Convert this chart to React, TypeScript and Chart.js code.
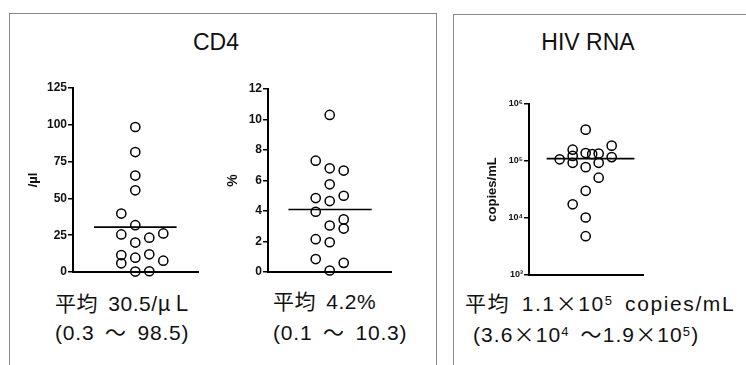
import React, { useEffect, useRef } from "react";
import { Chart, registerables } from "chart.js";

Chart.register(...registerables);

// ---------- CD4 count (/µl) ----------
const cd4CountColumns = [-1, -1, -1, -1, 0, 0, 0, 0, 0, 0, 0, 0, 1, 1, 1, 2, 2];
const cd4CountValues = [39.7, 25.5, 11.5, 5.9, 98.5, 81.5, 65.5, 55.5, 31.8, 20, 9.7, 0.3, 23.3, 12, 0.5, 26.2, 7.7];
const cd4CountMean = 30.5;
const cd4CountMeanSpan = [-2.95, 2.95];
const cd4CountTicks = [0, 25, 50, 75, 100, 125];

// ---------- CD4 percent (%) ----------
const cd4PctColumns = [-1, -1, -1, -1, -1, 0, 0, 0, 0, 0, 0, 0, 1, 1, 1, 1, 1];
const cd4PctValues = [7.3, 4.85, 3.95, 2.15, 0.85, 10.3, 6.8, 5.75, 4.65, 3.05, 1.95, 0.1, 6.65, 5.0, 3.45, 2.85, 0.6];
const cd4PctMean = 4.1;
const cd4PctMeanSpan = [-2.95, 3.0];
const cd4PctTicks = [0, 2, 4, 6, 8, 10, 12];

// ---------- HIV RNA (copies/mL) ----------
const hivColumns = [-2, -1, -1, -1, -1, 0, 0, 0, 0, 0, 0, 0.5, 1, 1, 1, 2, 2];
const hivValues = [
  1.07e5, 1.58e5, 1.23e5, 9.3e4, 1.74e4,
  3.55e5, 1.38e5, 7.8e4, 3.0e4, 1.02e4, 4.8e3,
  1.32e5, 1.35e5, 9.3e4, 5.1e4, 1.86e5, 1.17e5,
];
const hivMean = 1.1e5;
const hivMeanSpan = [-3.0, 3.75];
const hivTicks = [1e3, 1e4, 1e5, 1e6];
const hivTickLabels = ["10³", "10⁴", "10⁵", "10⁶"];

type PlotProps = {
  left: number;
  top: number;
  width: number;
  height: number;
  yWidth: number;
  xMin: number;
  xMax: number;
  columns: number[];
  values: number[];
  mean: number;
  meanSpan: number[];
  ticks: number[];
  tickLabels?: string[];
  log?: boolean;
  yMin: number;
  yMax: number;
  title: string;
  titleSize: number;
  titlePad: number;
  tickSize: number;
};

function DotPlot(p: PlotProps) {
  const ref = useRef<HTMLCanvasElement | null>(null);
  useEffect(() => {
    if (!ref.current) return;
    const chart = new Chart(ref.current, {
      type: "scatter",
      data: {
        datasets: [
          {
            type: "scatter",
            data: p.columns.map((x, i) => ({ x, y: p.values[i] })),
            pointStyle: "circle",
            pointRadius: 4.6,
            borderColor: "#000",
            borderWidth: 1.5,
            backgroundColor: "rgba(0,0,0,0)",
            clip: false,
          } as any,
          {
            type: "line",
            data: p.meanSpan.map((x) => ({ x, y: p.mean })),
            borderColor: "#000",
            borderWidth: 1.6,
            pointRadius: 0,
            clip: false,
          } as any,
        ],
      },
      options: {
        animation: false,
        responsive: false,
        events: [],
        layout: { padding: { top: 10, bottom: 10, left: 0, right: 10 } },
        plugins: { legend: { display: false }, tooltip: { enabled: false } },
        scales: {
          x: {
            type: "linear",
            min: p.xMin,
            max: p.xMax,
            ticks: { display: false },
            grid: { display: false },
            border: { display: true, color: "#000", width: 2 },
            afterFit: (s: any) => {
              s.height = 0;
            },
          },
          y: {
            type: p.log ? "logarithmic" : "linear",
            min: p.yMin,
            max: p.yMax,
            afterBuildTicks: (s: any) => {
              s.ticks = p.ticks.map((v) => ({ value: v }));
            },
            ticks: {
              color: "#111",
              padding: 1,
              font: { family: "'Liberation Sans', Arial, sans-serif", size: p.tickSize, weight: "bold" },
              callback: (v: any) => {
                const i = p.ticks.indexOf(Number(v));
                if (p.tickLabels) return i >= 0 ? p.tickLabels[i] : "";
                return String(v);
              },
            },
            grid: {
              display: true,
              drawOnChartArea: false,
              drawTicks: true,
              tickLength: 5,
              color: "#000",
              lineWidth: 1.5,
            },
            border: { display: true, color: "#000", width: 2 },
            title: {
              display: true,
              text: p.title,
              color: "#111",
              padding: { top: p.titlePad, bottom: 0 },
              font: { family: "'Liberation Sans', Arial, sans-serif", size: p.titleSize, weight: "bold" },
            },
            afterFit: (s: any) => {
              s.width = p.yWidth;
            },
          },
        },
      } as any,
    });
    return () => chart.destroy();
  }, []);
  return (
    <canvas
      ref={ref}
      width={p.width}
      height={p.height}
      style={{ position: "absolute", left: p.left, top: p.top, width: p.width, height: p.height }}
    />
  );
}

const sup = (t: string) => (
  <span style={{ fontSize: "0.62em", position: "relative", top: "-0.5em" }}>{t}</span>
);
const fw = (t: string) => (
  <span style={{ fontFamily: "'Noto Sans CJK JP', sans-serif", fontFeatureSettings: '"fwid" 1' }}>{t}</span>
);

const textFont = "'Liberation Sans', 'Noto Sans CJK JP', sans-serif";

const lineStyle = (left: number, top: number, ls = 0.5, ws = 4): React.CSSProperties => ({
  position: "absolute",
  left,
  top,
  fontSize: 21,
  lineHeight: "24px",
  whiteSpace: "nowrap",
  wordSpacing: ws,
  letterSpacing: ls,
});

export default function App() {
  return (
    <div
      style={{
        position: "fixed",
        left: 0,
        top: 0,
        width: 746,
        height: 365,
        overflow: "hidden",
        background: "#fff",
        color: "#111",
        fontFamily: textFont,
      }}
    >
      <div style={{ position: "absolute", left: 9, top: 13, width: 426, height: 420, border: "1px solid #888" }} />
      <div style={{ position: "absolute", left: 453, top: 14, width: 420, height: 420, border: "1px solid #888" }} />

      <div style={{ position: "absolute", left: 116, width: 200, top: 31, fontSize: 23, lineHeight: "23px", textAlign: "center" }}>CD4</div>
      <div style={{ position: "absolute", left: 488, width: 200, top: 31, fontSize: 23, lineHeight: "23px", textAlign: "center" }}>HIV RNA</div>

      <DotPlot
        left={20} top={78} width={188} height={204} yWidth={53}
        xMin={-4.45} xMax={4.48}
        columns={cd4CountColumns} values={cd4CountValues}
        mean={cd4CountMean} meanSpan={cd4CountMeanSpan}
        ticks={cd4CountTicks} yMin={0} yMax={125}
        title="/µl" titleSize={13} titlePad={6} tickSize={12}
      />
      <DotPlot
        left={220} top={79} width={181} height={203} yWidth={48}
        xMin={-4.41} xMax={4.38}
        columns={cd4PctColumns} values={cd4PctValues}
        mean={cd4PctMean} meanSpan={cd4PctMeanSpan}
        ticks={cd4PctTicks} yMin={0} yMax={12}
        title="%" titleSize={14} titlePad={5} tickSize={12}
      />
      <DotPlot
        left={480} top={94} width={173} height={191} yWidth={49}
        xMin={-4.36} xMax={4.41}
        columns={hivColumns} values={hivValues}
        mean={hivMean} meanSpan={hivMeanSpan}
        ticks={hivTicks} tickLabels={hivTickLabels} log={true}
        yMin={1e3} yMax={1e6}
        title="copies/mL" titleSize={13} titlePad={5} tickSize={9}
      />

      <div style={lineStyle(55, 290)}>
        平均 30.5/{fw("μＬ")}
      </div>
      <div style={lineStyle(55, 321, 0.8)}>(0.3 ～ 98.5)</div>
      <div style={lineStyle(273, 290)}>平均 4.2%</div>
      <div style={lineStyle(273, 321, 0.8)}>(0.1 ～ 10.3)</div>
      <div style={lineStyle(465, 290, 1.6, 4)}>
        平均 1.1{fw("×")}10{sup("5")} copies/mL
      </div>
      <div style={lineStyle(473, 321, 1.1, 4)}>
        (3.6{fw("×")}10{sup("4")} ～1.9{fw("×")}10{sup("5")})
      </div>
    </div>
  );
}
